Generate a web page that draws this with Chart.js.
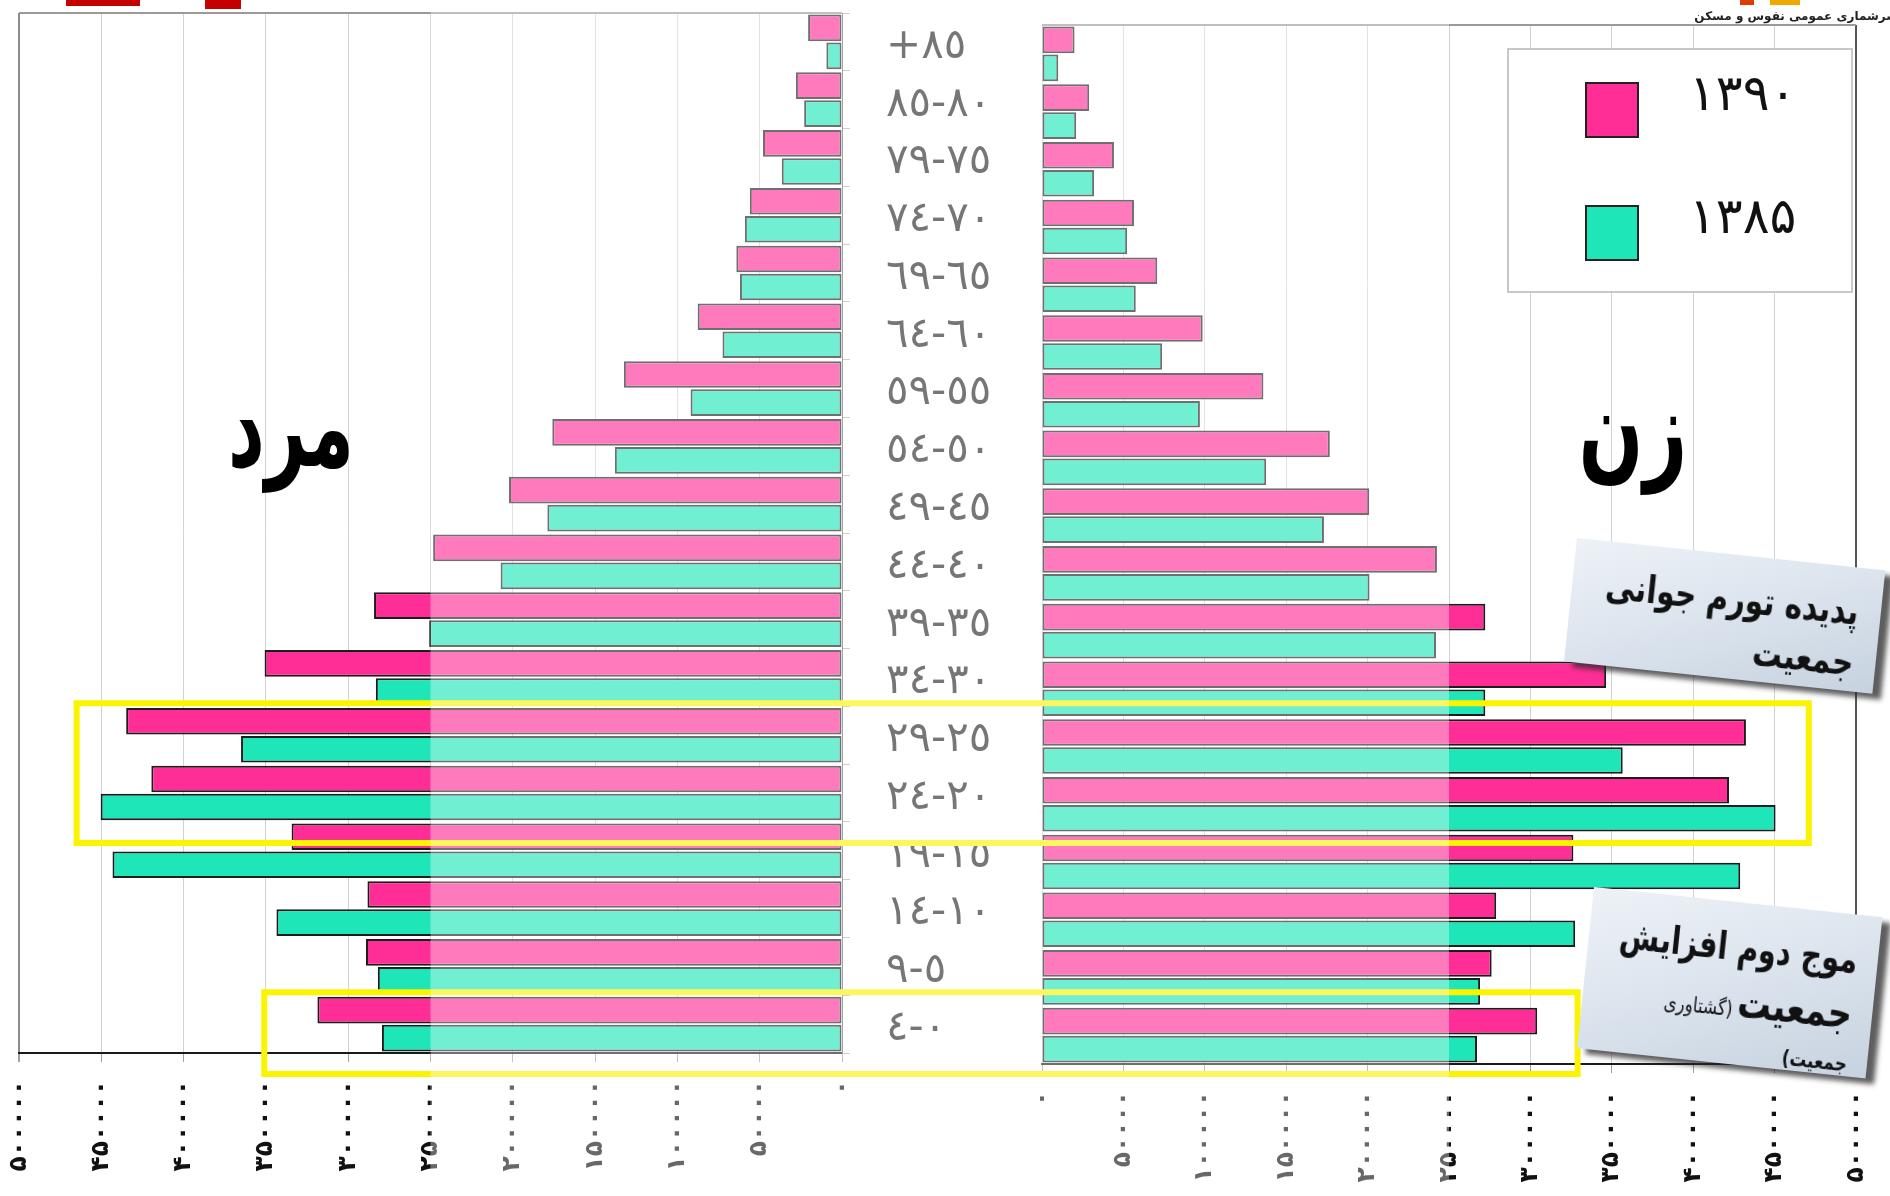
<!DOCTYPE html>
<html lang="fa">
<head>
<meta charset="utf-8">
<script src="https://cdn.jsdelivr.net/npm/chart.js@4.4.0/dist/chart.umd.min.js"></script>
<style>
  body { margin: 0; width: 1890px; height: 1196px; overflow: hidden; position: relative; background: #fff; font-family: "DejaVu Sans", sans-serif; }
  canvas { position: absolute; top: 0; }
  #men { left: 0; }
  #women { left: 1040px; }
  .big { position: absolute; font-weight: bold; font-size: 112px; line-height: 1; color: #000; direction: rtl; white-space: nowrap; }
  #legend { position: absolute; left: 1507px; top: 48px; width: 346px; height: 245px; box-sizing: border-box; background: #fff; border: 2px solid #c8c8c8; }
  #legend .item { position: absolute; left: 76px; }
  #legend .sw { position: absolute; left: 0; top: 0; width: 50px; height: 52px; border: 2px solid #222; }
  #legend .lt { position: absolute; left: 104px; top: -18px; font-size: 50px; color: #111; white-space: nowrap; }
  .note { position: absolute; transform-origin: 0 0; direction: rtl; text-align: right; box-sizing: border-box; color: #111; font-weight: bold;
          background: linear-gradient(160deg, #eef2f7 0%, #d9e2ec 55%, #c6d2df 100%);
          box-shadow: 9px 5px 5px rgba(40,40,40,0.75); }
  .note .ln { white-space: nowrap; transform-origin: 100% 50%; }
  .top-text { position: absolute; top: 9px; right: -8px; font-size: 12px; font-weight: bold; color: #222; direction: rtl; white-space: nowrap; }
</style>
</head>
<body>
<canvas id="men" width="1040" height="1196"></canvas>
<canvas id="women" width="850" height="1196"></canvas>

<div class="big" style="left:291px; top:427px; transform:translate(-50%,-50%) scaleX(0.64);">مرد</div>
<div class="big" style="left:1633px; top:429px; transform:translate(-50%,-50%) scaleX(0.68);">زن</div>

<div id="legend"></div>

<div class="note" style="left:1577px; top:538px; width:310px; height:124px; transform:rotate(6deg); padding:18px 22px 0 0;">
  <div class="ln" style="font-size:38px; line-height:52px; transform:scaleX(0.78);">پدیده تورم جوانی</div>
  <div class="ln" style="font-size:38px; line-height:50px; transform:scaleX(0.78);">جمعیت</div>
</div>
<div class="note" style="left:1594px; top:887px; width:290px; height:162px; transform:rotate(6deg); padding:18px 20px 0 0;">
  <div class="ln" style="font-size:38px; line-height:54px; transform:scaleX(0.76);">موج دوم افزایش</div>
  <div class="ln" style="line-height:56px; transform:scaleX(0.8);"><span style="font-size:42px;">جمعیت</span> <span style="font-size:21px; font-weight:normal;">(گشتاوری</span></div>
  <div class="ln" style="font-size:21px; line-height:26px; transform:scaleX(0.8);">جمعیت)</div>
</div>

<div style="position:absolute; left:66px; top:0; width:74px; height:6px; background:#c40000;"></div>
<div style="position:absolute; left:205px; top:0; width:36px; height:9px; background:#c40000;"></div>
<div style="position:absolute; left:1740px; top:0; width:14px; height:5px; background:#e23b00;"></div>
<div style="position:absolute; left:1770px; top:0; width:30px; height:5px; background:#f0a800;"></div>
<div class="top-text">سرشماری عمومی نفوس و مسکن</div>

<script>
const ageGroups = ['+٨٥', '٨٠-٨٥', '٧٥-٧٩', '٧٠-٧٤', '٦٥-٦٩', '٦٠-٦٤', '٥٥-٥٩', '٥٠-٥٤', '٤٥-٤٩',
                   '٤٠-٤٤', '٣٥-٣٩', '٣٠-٣٤', '٢٥-٢٩', '٢٠-٢٤', '١٥-١٩', '١٠-١٤', '٥-٩', '٠-٤'];
const years = ['۱۳۹۰', '۱۳۸۵'];

// men (left side)
const men1390 = [20600, 28000, 48000, 56000, 64200, 87700, 132500, 176000, 202300,
                 248400, 284300, 350800, 434900, 419600, 334400, 288300, 289200, 318700];
const men1385 = [9500, 23000, 36600, 59000, 62000, 72600, 92000, 138000, 179000,
                 207400, 250800, 283200, 365100, 450400, 443200, 343600, 282000, 279500];

// women (right side)
const women1390 = [20000, 29000, 44200, 56500, 70800, 98700, 136000, 176800, 201000,
                   242600, 272300, 346500, 432400, 422000, 326400, 279000, 276200, 304200];
const women1385 = [10000, 21000, 32000, 52300, 57600, 73800, 97000, 137700, 173200,
                   201200, 242000, 272300, 356700, 450600, 428900, 327500, 269100, 267200];

const axisSteps = [0, 50000, 100000, 150000, 200000, 250000, 300000, 350000, 400000, 450000, 500000];
const axisLabels = ['۰', '۵۰۰۰۰', '۱۰۰۰۰۰', '۱۵۰۰۰۰', '۲۰۰۰۰۰', '۲۵۰۰۰۰', '۳۰۰۰۰۰', '۳۵۰۰۰۰', '۴۰۰۰۰۰', '۴۵۰۰۰۰', '۵۰۰۰۰۰'];

const pink = '#ff2d96';
const teal = '#1fe6b8';

Chart.defaults.font.family = 'DejaVu Sans';

function barSets(a, b) {
  const common = { borderColor: '#1c1c1c', borderWidth: 2, borderSkipped: false, barPercentage: 0.95, categoryPercentage: 0.97 };
  return [
    Object.assign({ label: years[0], data: a, backgroundColor: pink }, common),
    Object.assign({ label: years[1], data: b, backgroundColor: teal }, common)
  ];
}

// highlighted age groups (yellow frames), reach given in population units per side
const frames = [
  { first: '٢٥-٢٩', last: '٢٠-٢٤', men: 465000, women: 471000 },
  { first: '٠-٤', last: '٠-٤', men: 351000, women: 329000 }
];

let menChart = null;

function decor(side) {
  return {
    id: 'decor' + side,
    beforeDatasetsDraw(chart) {
      const { ctx, chartArea } = chart;
      ctx.save();
      ctx.strokeStyle = '#9a9a9a';
      ctx.lineWidth = 2;
      ctx.beginPath();
      ctx.moveTo(chartArea.left, chartArea.top);
      ctx.lineTo(chartArea.right, chartArea.top);
      ctx.stroke();
      ctx.restore();
    },
    afterDatasetsDraw(chart) {
      const ctx = chart.ctx;
      const x = chart.scales.x;
      const ref = side === 'men' ? chart.scales.y : menChart.scales.y;
      const half = (ref.getPixelForValue(1) - ref.getPixelForValue(0)) / 2;
      ctx.save();
      ctx.strokeStyle = '#fbf300';
      ctx.lineWidth = 6;
      frames.forEach(f => {
        const top = ref.getPixelForValue(ageGroups.indexOf(f.first)) - half - 3;
        const bottom = ref.getPixelForValue(ageGroups.indexOf(f.last)) + half + 21;
        const edge = x.getPixelForValue(f[side]);
        ctx.beginPath();
        if (side === 'men') {
          ctx.moveTo(chart.width, top); ctx.lineTo(edge, top);
          ctx.lineTo(edge, bottom); ctx.lineTo(chart.width, bottom);
        } else {
          ctx.moveTo(0, top); ctx.lineTo(edge, top);
          ctx.lineTo(edge, bottom); ctx.lineTo(0, bottom);
        }
        ctx.stroke();
      });
      // pale veil over the middle of the pyramid
      const mid = x.getPixelForValue(250000);
      ctx.fillStyle = 'rgba(255,255,255,0.37)';
      if (side === 'men') ctx.fillRect(mid, 0, chart.width - mid, chart.height);
      else ctx.fillRect(0, 0, mid, chart.height);
      ctx.restore();
    }
  };
}

function xAxis(reverse, height, edgeColor) {
  return {
    reverse: reverse,
    min: 0,
    max: 500000,
    afterFit: s => { s.height = height; s.paddingLeft = 0; s.paddingRight = 0; },
    ticks: {
      stepSize: 50000,
      autoSkip: false,
      minRotation: 90,
      maxRotation: 90,
      padding: 18,
      color: '#111',
      font: { size: 25, weight: 'bold' },
      callback: v => axisLabels[axisSteps.indexOf(v)]
    },
    grid: {
      color: c => (c.tick && c.tick.value === 500000 ? edgeColor : '#d2d2d2'),
      lineWidth: c => (c.tick && c.tick.value === 500000 ? 2 : 1),
      tickLength: 9,
      tickColor: '#a0a0a0'
    },
    border: { color: '#1a1a1a', width: 2 }
  };
}

menChart = new Chart(document.getElementById('men'), {
  type: 'bar',
  data: { labels: ageGroups, datasets: barSets(men1390, men1385) },
  options: {
    indexAxis: 'y',
    responsive: false,
    animation: false,
    layout: { padding: { left: 19, top: 13, right: 0, bottom: 0 } },
    plugins: { legend: { display: false }, tooltip: { enabled: false } },
    scales: {
      x: xAxis(true, 143, '#8c8c8c'),
      y: {
        position: 'right',
        z: 1,
        afterFit: s => { s.width = 198; s.paddingTop = 0; s.paddingBottom = 0; },
        ticks: { crossAlign: 'near', padding: 36, labelOffset: 5, color: '#262626', font: { size: 42 } },
        grid: { drawOnChartArea: false, tickLength: 8, tickColor: '#b0b0b0' },
        border: { color: '#707070', width: 1 }
      }
    }
  },
  plugins: [decor('men')]
});

const womenChart = new Chart(document.getElementById('women'), {
  type: 'bar',
  data: { labels: ageGroups, datasets: barSets(women1390, women1385) },
  options: {
    indexAxis: 'y',
    responsive: false,
    animation: false,
    layout: { padding: { left: 2, top: 25, right: 34, bottom: 0 } },
    plugins: { legend: { display: false }, tooltip: { enabled: false } },
    scales: {
      x: xAxis(false, 132, '#555555'),
      y: { display: false }
    }
  },
  plugins: [decor('women')]
});

// legend built from the datasets
const legend = document.getElementById('legend');
womenChart.data.datasets.forEach((ds, i) => {
  const item = document.createElement('div');
  item.className = 'item';
  item.style.top = (32 + i * 123) + 'px';
  item.innerHTML = '<span class="sw" style="background:' + ds.backgroundColor + '"></span><span class="lt">' + ds.label + '</span>';
  legend.appendChild(item);
});
</script>
</body>
</html>
